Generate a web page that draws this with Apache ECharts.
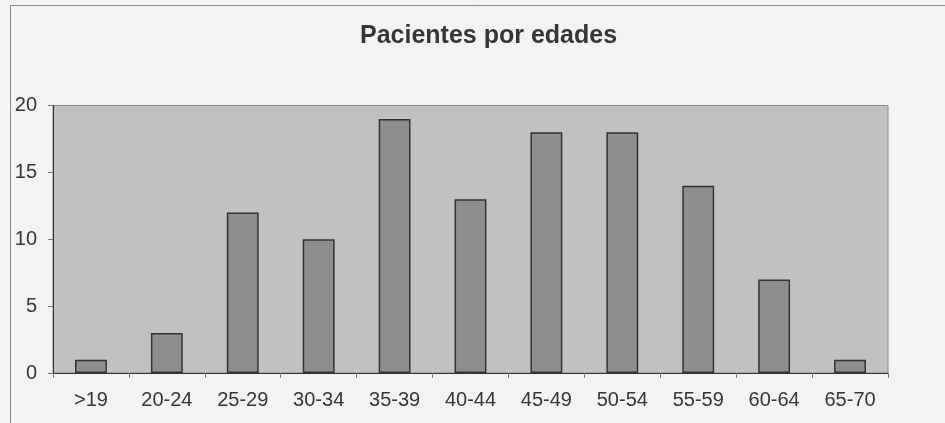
<!DOCTYPE html>
<html>
<head>
<meta charset="utf-8">
<script src="https://cdn.jsdelivr.net/npm/echarts@6/dist/echarts.min.js"></script>
<style>
  html, body { margin: 0; padding: 0; background: #f3f3f2; }
  #chart { width: 945px; height: 423px; }
</style>
</head>
<body>
<div id="chart"></div>
<script>
// grupos de edad y número de pacientes
const age_groups = ['>19', '20-24', '25-29', '30-34', '35-39', '40-44', '45-49', '50-54', '55-59', '60-64', '65-70']
const patients = [1, 3, 12, 10, 19, 13, 18, 18, 14, 7, 1]

const font = 'Liberation Sans, Arial, sans-serif'

const chart = echarts.init(document.getElementById('chart'))

chart.setOption({
    backgroundColor: '#f3f3f2',
    animation: false,
    title: {
        text: 'Pacientes por edades',
        left: 355,
        top: 19,
        textStyle: { fontFamily: font, fontSize: 25, fontWeight: 'bold', color: '#363636' },
    },
    graphic: [
        {
            type: 'rect',
            shape: { x: 10.5, y: 5.5, width: 1000, height: 500 },
            style: { fill: null, stroke: '#8a8a8a', lineWidth: 1 },
            silent: true,
        },
    ],
    grid: {
        left: 53,
        right: 57,
        top: 105.5,
        bottom: 50,
        show: true,
        backgroundColor: '#c1c1c1',
        borderColor: '#8c8c8c',
        borderWidth: 1,
    },
    xAxis: {
        type: 'category',
        data: age_groups,
        axisLine: { lineStyle: { color: '#333', width: 1 } },
        axisTick: { show: true, alignWithLabel: false, length: 5, lineStyle: { color: '#777' } },
        axisLabel: { margin: 17, fontFamily: font, fontSize: 20, color: '#363636' },
    },
    yAxis: {
        type: 'value',
        min: 0,
        max: 20,
        interval: 5,
        axisLine: { show: true, lineStyle: { color: '#333', width: 1 } },
        axisTick: { show: true, length: 5, lineStyle: { color: '#777' } },
        splitLine: { show: false },
        axisLabel: { margin: 16, fontFamily: font, fontSize: 20, color: '#363636' },
    },
    series: [
        {
            type: 'bar',
            data: patients,
            barWidth: '42%',
            itemStyle: { color: '#8e8e8e', borderColor: '#333', borderWidth: 1.5 },
        },
    ],
})
</script>
</body>
</html>
